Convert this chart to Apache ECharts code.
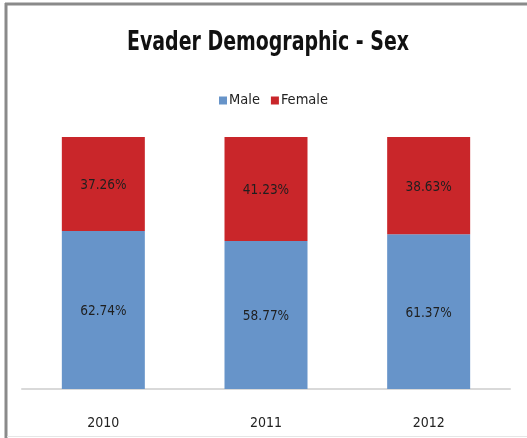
<!DOCTYPE html>
<html>
<head>
<meta charset="utf-8">
<style>
  html, body { margin: 0; padding: 0; background: #fff; }
  #chart { width: 527px; height: 438px; }
</style>
<script src="https://cdn.jsdelivr.net/npm/echarts@6/dist/echarts.min.js"></script>
</head>
<body>
<div id="chart"></div>
<script>
// Share of evaders by sex, per year (percent)
const years = ['2010', '2011', '2012'];
const male = [62.74, 58.77, 61.37];
const female = [37.26, 41.23, 38.63];
const chartTitle = 'Evader Demographic - Sex';

const FONT = '"DejaVu Sans Condensed", Roboto, sans-serif';

const chart = echarts.init(document.getElementById('chart'), null, { renderer: 'canvas' });

const labelStyle = {
  show: true,
  position: 'inside',
  offset: [0, 2],
  color: '#1f1f1f',
  fontFamily: FONT,
  fontSize: 13.5,
  formatter: p => p.value.toFixed(2) + '%'
};

chart.setOption({
  animation: false,
  backgroundColor: '#fff',
  legend: {
    data: ['Male', 'Female'],
    top: 88,
    left: 214,
    itemWidth: 8,
    itemHeight: 8,
    itemGap: 11,
    icon: 'rect',
    textStyle: { fontFamily: FONT, fontSize: 14.5, color: '#222', padding: [0, 0, 0, -3] }
  },
  grid: { left: 22, right: 17, top: 137, bottom: 49 },
  xAxis: {
    type: 'category',
    data: years,
    axisTick: { show: false },
    axisLine: { lineStyle: { color: '#d9d9d9', width: 2 } },
    axisLabel: { fontFamily: FONT, fontSize: 14, color: '#222', margin: 27 }
  },
  yAxis: {
    type: 'value',
    min: 0,
    max: 100,
    show: false
  },
  series: [
    {
      name: 'Male',
      type: 'bar',
      stack: 'sex',
      data: male,
      barWidth: 83,
      itemStyle: { color: '#6794c9' },
      label: labelStyle
    },
    {
      name: 'Female',
      type: 'bar',
      stack: 'sex',
      data: female,
      barWidth: 83,
      itemStyle: { color: '#c9262a' },
      label: labelStyle
    }
  ],
  graphic: [
    // condensed bold heading
    {
      type: 'text',
      x: 268,
      y: 43,
      scaleX: 0.78,
      style: {
        text: chartTitle,
        fontFamily: FONT,
        fontWeight: 'bold',
        fontSize: 27,
        fill: '#111',
        textAlign: 'center',
        textVerticalAlign: 'middle'
      }
    },
    // chart frame
    { type: 'line', shape: { x1: 5, y1: 4, x2: 527, y2: 4 }, style: { stroke: '#8a8a8a', lineWidth: 3 } },
    { type: 'line', shape: { x1: 6, y1: 3, x2: 6, y2: 438 }, style: { stroke: '#8a8a8a', lineWidth: 3 } },
    { type: 'line', shape: { x1: 7, y1: 436.5, x2: 527, y2: 436.5 }, style: { stroke: '#e6e6e6', lineWidth: 1 } }
  ]
});
</script>
</body>
</html>
